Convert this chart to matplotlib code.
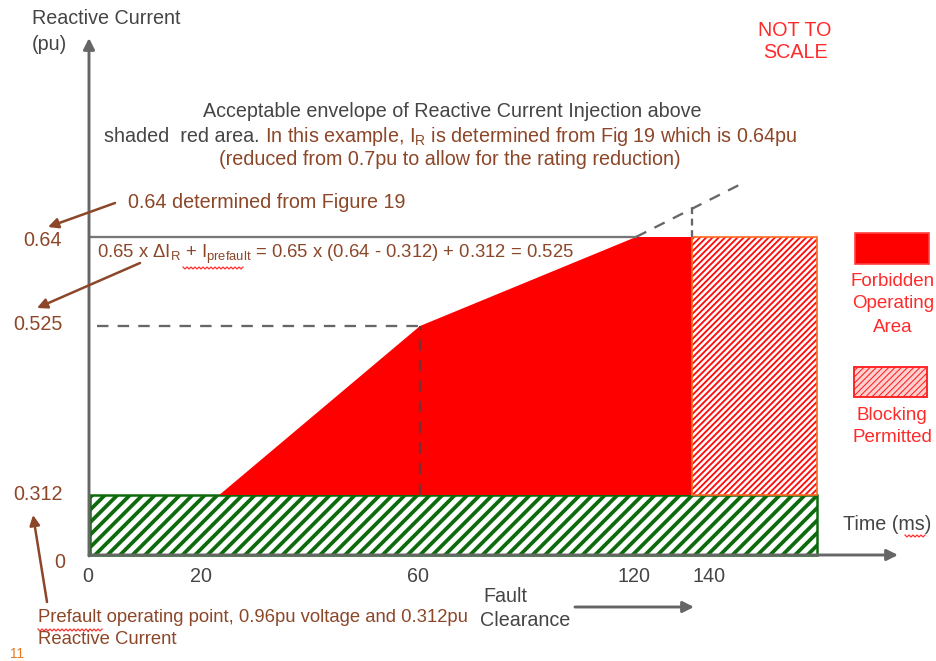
import numpy as np
import matplotlib
matplotlib.use('Agg')
import matplotlib.pyplot as plt
from matplotlib.patches import Rectangle

plt.rcParams['font.family'] = 'Liberation Sans'
plt.rcParams['mathtext.fontset'] = 'custom'
plt.rcParams['mathtext.rm'] = 'Liberation Sans'
plt.rcParams['mathtext.it'] = 'Liberation Sans:italic'

# Values: time in ms, reactive current in pu
time_ticks = [0, 20, 60, 120, 140]
time_labels = ['0', '20', '60', '120', '140']
t_start = 23      # forbidden area starts rising
t_knee = 60
t_full = 120
t_block = 140     # blocking permitted from here
t_end = 180       # end of the drawn window
t_ext = 155       # end of the dashed extension
i_prefault = 0.312
i_knee = 0.525
i_full = 0.64
current_ticks = [0, 0.312, 0.525, 0.64]
current_labels = ['0', '0.312', '0.525', '0.64']

# Not to scale: where the values sit on the page (pixels)
x_nodes = [0, 20, 60, 120, 140, 180]
x_px = [90, 203, 420, 636, 692, 817]
y_nodes = [0, 0.312, 0.525, 0.64]
y_px = [555, 495, 326, 237]

W, H = 936, 661
BROWN = '#8c4628'
GREY = '#454545'
AXGREY = '#666666'
FS = 9.5
FS_SMALL = 8.9


# Piecewise linear mapping with linear extrapolation at both ends
def piecewise(xs, ys):
    xs = np.asarray(xs, float)
    ys = np.asarray(ys, float)
    k0 = (ys[1] - ys[0]) / (xs[1] - xs[0])
    k1 = (ys[-1] - ys[-2]) / (xs[-1] - xs[-2])

    def f(v):
        v = np.asarray(v, float)
        out = np.interp(v, xs, ys)
        out = np.where(v < xs[0], ys[0] + (v - xs[0]) * k0, out)
        out = np.where(v > xs[-1], ys[-1] + (v - xs[-1]) * k1, out)
        return out
    return f


# Red spell-check squiggle under a word (page pixels)
def squiggle(axis, x0, x1, y):
    xs = np.arange(x0, x1 + 0.1, 2.0)
    ys = y + np.where(np.arange(len(xs)) % 2 == 0, -1.0, 1.0)
    axis.plot(xs, ys, color='#ff3030', lw=0.6)


fig = plt.figure(figsize=(W / 150, H / 150), dpi=150)

# Main axes: data units, custom "not to scale" scales
ax = fig.add_axes([0, 0, 1, 1])
fx, ix = piecewise(x_nodes, x_px), piecewise(x_px, x_nodes)
hy = H - np.array(y_px, float)
fy, iy = piecewise(y_nodes, hy), piecewise(hy, y_nodes)
ax.set_xscale('function', functions=(fx, ix))
ax.set_yscale('function', functions=(fy, iy))
ax.set_xlim(float(ix(0)), float(ix(W)))
ax.set_ylim(float(iy(0)), float(iy(H)))
ax.axis('off')

# Prefault operating band (green hatch)
plt.rcParams['hatch.linewidth'] = 1.8
green = Rectangle((0, 0), t_end, i_prefault, facecolor='white',
                  edgecolor='#0d6b0d', hatch='////', lw=1.2, zorder=2)
if hasattr(green, 'set_hatch_linewidth'):
    green.set_hatch_linewidth(1.8)
ax.add_patch(green)

# Forbidden operating area
ax.fill([t_start, t_knee, t_full, t_block, t_block],
        [i_prefault, i_knee, i_full, i_full, i_prefault],
        color='#ff0000', lw=0, zorder=2)

# Blocking permitted (red hatch)
plt.rcParams['hatch.linewidth'] = 0.9
block = Rectangle((t_block, i_prefault), t_end - t_block, i_full - i_prefault,
                  facecolor='white', edgecolor='#ff0d0d', hatch='////////', lw=0, zorder=2)
if hasattr(block, 'set_hatch_linewidth'):
    block.set_hatch_linewidth(0.9)
ax.add_patch(block)
ax.add_patch(Rectangle((t_block, i_prefault), t_end - t_block, i_full - i_prefault,
                       fill=False, edgecolor='#ff6a1f', lw=0.8, zorder=3))

# Reference lines
ax.plot([0, t_full], [i_full, i_full], color='#777777', lw=1.1, zorder=3)
ax.plot([1.2, t_knee], [i_knee, i_knee], color=AXGREY, lw=1.1, ls=(0, (5, 4)), zorder=3)
ax.plot([t_knee, t_knee], [i_prefault, i_knee], color='#7a3030', lw=1.1,
        ls=(0, (5, 4)), zorder=3)
slope = (i_full - i_knee) / (t_full - t_knee)
ax.plot([t_full, t_ext], [i_full, i_full + slope * (t_ext - t_full)],
        color=AXGREY, lw=1.1, ls=(0, (5, 4)), zorder=3)
ax.plot([t_block, t_block], [i_full, i_full + slope * (t_block - t_full)],
        color=AXGREY, lw=1.1, ls=(0, (3, 2)), zorder=3)

# Overlay in page pixels for arrows and text
lay = fig.add_axes([0, 0, 1, 1], facecolor='none')
lay.set_xlim(0, W)
lay.set_ylim(H, 0)
lay.axis('off')

ax_arrow = dict(arrowstyle='-|>', color=AXGREY, lw=1.4, mutation_scale=11,
                shrinkA=0, shrinkB=0)
lay.annotate('', xy=(898, 555), xytext=(89, 555), arrowprops=ax_arrow)
lay.annotate('', xy=(89, 38), xytext=(89, 556), arrowprops=ax_arrow)

lay.text(32, 18, 'Reactive Current', fontsize=FS, color=GREY, va='center')
lay.text(32, 44, '(pu)', fontsize=FS, color=GREY, va='center')
lay.text(795, 30, 'NOT TO', fontsize=FS, color='#ff2a2a', ha='center', va='center')
lay.text(795, 52, 'SCALE', fontsize=FS, color='#ff2a2a', ha='center', va='center')

# Header note
lay.text(452, 117, 'Acceptable envelope of Reactive Current Injection above',
         fontsize=FS, color=GREY, ha='center', va='baseline')
part1 = lay.text(104, 142, 'shaded  red area.', fontsize=FS, color=GREY, va='baseline')
lay.annotate(r' In this example, $\mathregular{I_R}$ is determined from Fig 19 which is 0.64pu',
             xy=(1.0, 142), xycoords=(part1, 'data'), fontsize=FS, color=BROWN,
             ha='left', va='baseline')
lay.text(450, 165, '(reduced from 0.7pu to allow for the rating reduction)',
         fontsize=FS, color=BROWN, ha='center', va='baseline')

# Current labels on the left
label_x = [43, 38, 38, 60]
label_y = [240, 325, 495, 562]
for lx, ly, lab in zip(label_x, label_y, current_labels[::-1]):
    lay.text(lx, ly, lab, fontsize=FS, color=BROWN, ha='center', va='center')

# Time tick labels
for t, lab in zip(time_ticks, time_labels):
    px = float(fx(t))
    ha = 'left' if t == t_block else 'center'
    lay.text(px - 2 if ha == 'center' else px, 577, lab, fontsize=FS,
             color=GREY, ha=ha, va='center')

lay.text(843, 524, 'Time (ms)', fontsize=FS, color=GREY, va='center')
squiggle(lay, 905, 925, 536)
lay.text(483, 597, 'Fault', fontsize=FS, color=GREY, va='center')
lay.text(480, 620, 'Clearance', fontsize=FS, color=GREY, va='center')
lay.annotate('', xy=(694, 607), xytext=(575, 607), arrowprops=ax_arrow)

# Annotations with brown arrows
br_arrow = dict(arrowstyle='-|>', color=BROWN, lw=1.2, mutation_scale=10,
                shrinkA=0, shrinkB=0)
lay.text(128, 203, '0.64 determined from Figure 19', fontsize=FS, color=BROWN, va='center')
lay.annotate('', xy=(48, 227), xytext=(115, 203), arrowprops=br_arrow)
lay.text(97, 254, r'0.65 x Δ$\mathregular{I_R}$ + $\mathregular{I_{prefault}}$'
         ' = 0.65 x (0.64 - 0.312) + 0.312 = 0.525',
         fontsize=FS_SMALL, color=BROWN, va='center')
squiggle(lay, 183, 243, 268)
lay.annotate('', xy=(37, 308), xytext=(140, 263), arrowprops=br_arrow)
lay.annotate('', xy=(33, 515), xytext=(47, 602), arrowprops=br_arrow)
lay.text(38, 618, 'Prefault operating point, 0.96pu voltage and 0.312pu',
         fontsize=FS_SMALL, color=BROWN, va='center')
squiggle(lay, 38, 102, 630)
lay.text(38, 640, 'Reactive Current', fontsize=FS_SMALL, color=BROWN, va='center')
lay.text(10, 654, '11', fontsize=6.5, color='#e8781e', va='center')

# Legend
lay.add_patch(Rectangle((855, 233), 74, 31, facecolor='#ff0000',
                        edgecolor='#ff4040', lw=0.8))
for k, word in enumerate(['Forbidden', 'Operating', 'Area']):
    lay.text(893, 281 + 23 * k, word, fontsize=9, color='#ff2a2a', ha='center', va='center')
plt.rcParams['hatch.linewidth'] = 0.5
leg = Rectangle((854, 367), 73, 30, facecolor='#ffd0d0', edgecolor='#ff2020',
                hatch='////////', lw=0.9)
if hasattr(leg, 'set_hatch_linewidth'):
    leg.set_hatch_linewidth(0.5)
lay.add_patch(leg)
for k, word in enumerate(['Blocking', 'Permitted']):
    lay.text(892, 415 + 22 * k, word, fontsize=9, color='#ff2a2a', ha='center', va='center')

fig.savefig('out.png', dpi=150)
